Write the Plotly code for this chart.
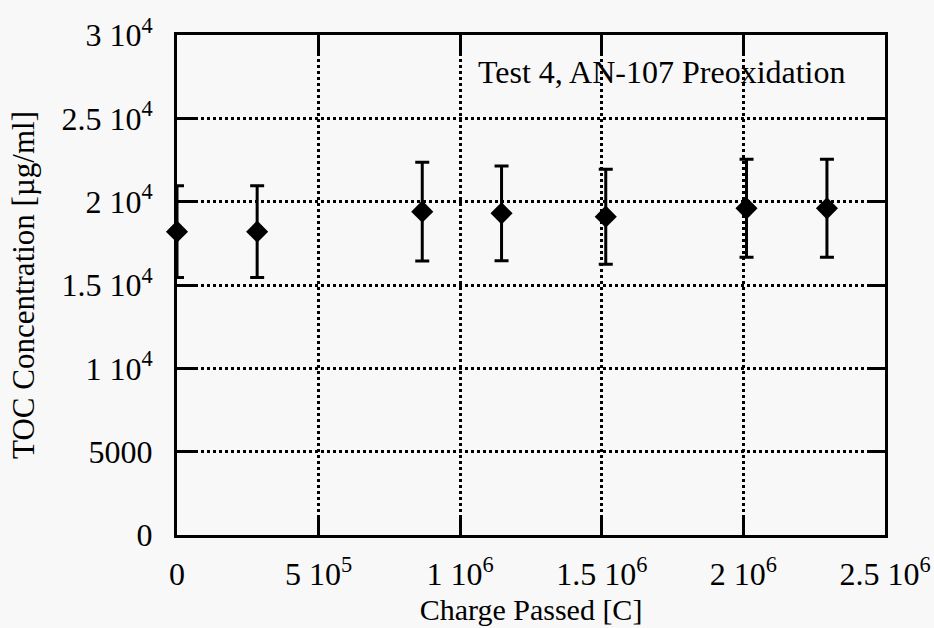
import plotly.graph_objects as go

# Data
charge = [0, 2.83e5, 8.66e5, 1.146e6, 1.514e6, 2.011e6, 2.295e6]
toc = [18200, 18200, 19400, 19300, 19100, 19600, 19600]
toc_err = [2750, 2750, 2960, 2840, 2850, 2940, 2940]

x_tickvals = [0, 5e5, 1e6, 1.5e6, 2e6, 2.5e6]
x_ticktext = ["0", "5 10<sup>5</sup>", "1 10<sup>6</sup>", "1.5 10<sup>6</sup>",
              "2 10<sup>6</sup>", "2.5 10<sup>6</sup>"]
y_tickvals = [0, 5000, 10000, 15000, 20000, 25000, 30000]
y_ticktext = ["0", "5000", "1 10<sup>4</sup>", "1.5 10<sup>4</sup>", "2 10<sup>4</sup>",
              "2.5 10<sup>4</sup>", "3 10<sup>4</sup>"]

FONT = "Liberation Serif, Times New Roman, serif"
BG = "#f8f8f8"

fig = go.Figure()
fig.add_trace(go.Scatter(
    x=charge, y=toc, mode="markers",
    marker=dict(symbol="diamond", size=17, color="black"),
    error_y=dict(type="data", array=toc_err, visible=True,
                 color="black", thickness=3, width=7),
    cliponaxis=False, showlegend=False,
))

axis_common = dict(
    showline=True, linewidth=3, linecolor="black", mirror="ticks",
    ticks="inside", ticklen=18, tickwidth=3, tickcolor="black",
    showgrid=True, gridcolor="black", gridwidth=2.5, griddash="dot",
    zeroline=False, automargin=False,
    tickfont=dict(family=FONT, size=32, color="black"),
)

fig.update_xaxes(
    range=[0, 2.5e6], tickmode="array", tickvals=x_tickvals, ticktext=x_ticktext,
    title=dict(text="Charge Passed [C]", font=dict(family=FONT, size=30, color="black"),
               standoff=8),
    ticklabelstandoff=9,
    **axis_common,
)
fig.update_yaxes(
    range=[0, 30000], tickmode="array", tickvals=y_tickvals, ticktext=y_ticktext,
    title=dict(text="TOC Concentration [µg/ml]", font=dict(family=FONT, size=31, color="black"),
               standoff=18),
    ticklabelstandoff=15,
    **axis_common,
)

fig.add_annotation(
    x=1.055e6, y=27780, xref="x", yref="y",
    text="Test 4, AN-107 Preoxidation", showarrow=False,
    xanchor="left", yanchor="middle",
    font=dict(family=FONT, size=32, color="black"),
)

fig.update_layout(
    width=934, height=628,
    margin=dict(l=177, r=49, t=35, b=93),
    paper_bgcolor=BG, plot_bgcolor=BG,
    font=dict(family=FONT, color="black"),
)

fig.write_html("out.html")
